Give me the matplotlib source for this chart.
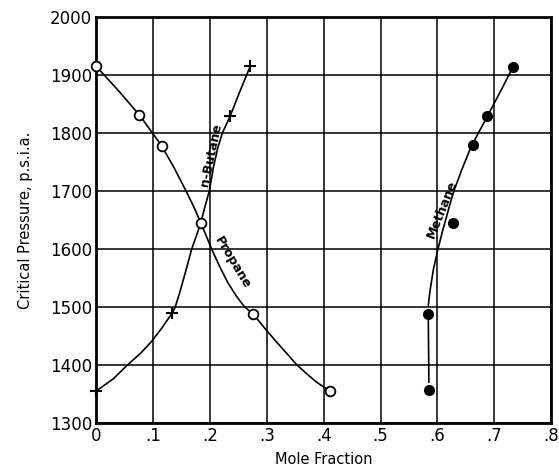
import matplotlib.pyplot as plt

# measured points
propane_x = [0.0, 0.076, 0.115, 0.184, 0.276, 0.411]
propane_p = [1915, 1831, 1778, 1645, 1488, 1355]

butane_x = [0.0, 0.134, 0.236, 0.271]
butane_p = [1355, 1490, 1830, 1915]

methane_x = [0.585, 0.583, 0.628, 0.663, 0.688, 0.733]
methane_p = [1357, 1488, 1645, 1779, 1829, 1914]

# smooth curves
propane_cx = [0.0, 0.040, 0.076, 0.099, 0.115, 0.137, 0.158, 0.172, 0.184,
              0.203, 0.218, 0.232, 0.247, 0.261, 0.276, 0.295, 0.315, 0.335,
              0.353, 0.370, 0.388, 0.411]
propane_cp = [1915, 1872, 1831, 1800, 1778, 1740, 1700, 1672, 1645,
              1600, 1568, 1541, 1518, 1500, 1488, 1465, 1442, 1420,
              1400, 1385, 1370, 1355]

butane_cx = [0.0, 0.030, 0.055, 0.078, 0.097, 0.115, 0.134, 0.139, 0.147,
             0.157, 0.168, 0.176, 0.184, 0.191, 0.199, 0.206, 0.214, 0.222,
             0.236, 0.252, 0.271]
butane_cp = [1355, 1376, 1400, 1420, 1440, 1463, 1490, 1500, 1525,
             1560, 1600, 1622, 1645, 1672, 1700, 1740, 1775, 1800,
             1830, 1870, 1915]

methane_lx = [0.585, 0.584]
methane_lp = [1370, 1478]
methane_cx = [0.584, 0.587, 0.593, 0.601, 0.608, 0.615, 0.622, 0.629, 0.643,
              0.657, 0.672, 0.688, 0.710, 0.733]
methane_cp = [1503, 1528, 1565, 1600, 1627, 1652, 1677, 1700, 1737,
              1771, 1800, 1829, 1870, 1914]

xticks = [0, .1, .2, .3, .4, .5, .6, .7, .8]
xtick_labels = ['0', '.1', '.2', '.3', '.4', '.5', '.6', '.7', '.8']
yticks = [1300, 1400, 1500, 1600, 1700, 1800, 1900, 2000]

fig = plt.figure(figsize=(5.59, 4.71), dpi=100)
ax = fig.add_axes([0.172, 0.102, 0.814, 0.862])

for cx, cp in [(propane_cx, propane_cp), (butane_cx, butane_cp),
               (methane_lx, methane_lp), (methane_cx, methane_cp)]:
    ax.plot(cx, cp, color='black', lw=1.2, zorder=3, solid_capstyle='round')

ax.plot(propane_x, propane_p, 'o', mfc='white', mec='black', mew=1.3, ms=7, zorder=4, clip_on=False)
ax.plot(butane_x, butane_p, '+', color='black', mew=1.5, ms=9, zorder=4, clip_on=False)
ax.plot(methane_x, methane_p, 'o', color='black', ms=7, zorder=4)

ax.text(0.203, 1762, 'n-Butane', rotation=78, ha='center', va='center', fontsize=9,
        fontweight='bold', zorder=5)
ax.text(0.240, 1577, 'Propane', rotation=-59, ha='center', va='center', fontsize=9,
        fontweight='bold', zorder=5)
ax.text(0.609, 1668, 'Methane', rotation=68, ha='center', va='center', fontsize=9,
        fontweight='bold', zorder=5)

ax.set_xlim(0, 0.8)
ax.set_ylim(1300, 2000)
ax.set_xticks(xticks)
ax.set_xticklabels(xtick_labels, fontsize=12)
ax.set_yticks(yticks)
ax.set_yticklabels([str(v) for v in yticks], fontsize=12)
ax.tick_params(length=0, pad=3)
ax.grid(True, color='black', lw=1.1)
for s in ax.spines.values():
    s.set_linewidth(2)

ax.set_xlabel('Mole Fraction', fontsize=10.5, labelpad=5)
ax.set_ylabel('Critical Pressure, p.s.i.a.', fontsize=10.5, labelpad=12)

fig.savefig('out.png', dpi=100)
